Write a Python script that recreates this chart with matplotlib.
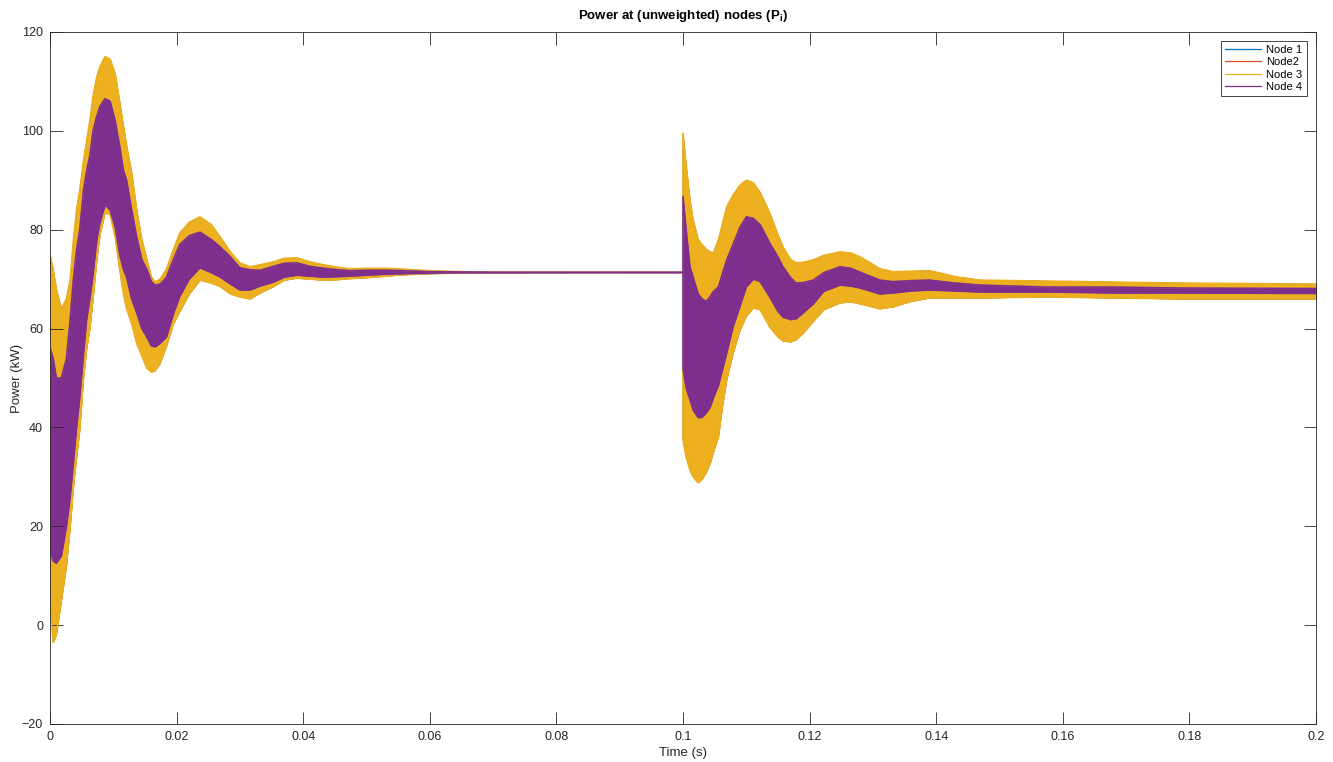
import matplotlib
matplotlib.use("Agg")
import matplotlib.pyplot as plt
from matplotlib.lines import Line2D
import numpy as np

# ---- data (envelopes of the oscillating node powers) ----
t = [0.0000, 0.0005, 0.0010, 0.0018, 0.0026, 0.0032, 0.0037, 0.0042, 0.0047, 0.0053,
     0.0058, 0.0063, 0.0068, 0.0074, 0.0079, 0.0087, 0.0095, 0.0103, 0.0110, 0.0116,
     0.0121, 0.0129, 0.0137, 0.0145, 0.0153, 0.0160, 0.0166, 0.0174, 0.0184, 0.0195,
     0.0205, 0.0220, 0.0237, 0.0255, 0.0269, 0.0285, 0.0300, 0.0316, 0.0332, 0.0353,
     0.0370, 0.0390, 0.0410, 0.0432, 0.0454, 0.0474, 0.0500, 0.0530, 0.0560, 0.0600,
     0.0650, 0.0700, 0.1000,
     0.1000, 0.1005, 0.1011, 0.1016, 0.1024, 0.1030, 0.1037, 0.1043, 0.1048, 0.1056,
     0.1062, 0.1069, 0.1079, 0.1090, 0.1100, 0.1111, 0.1122, 0.1137, 0.1150, 0.1158,
     0.1170, 0.1179, 0.1190, 0.1206, 0.1222, 0.1248, 0.1265, 0.1280, 0.1311, 0.1332,
     0.1360, 0.1390, 0.1430, 0.1469, 0.1575, 0.1680, 0.1785, 0.2000]

node3_hi = [75, 72, 68, 64, 66, 70, 78, 84, 88, 94,
            98, 102, 107, 111, 113, 115, 114.5, 111.5, 106, 101,
            97, 91.5, 84, 78, 74, 70.5, 69.4, 70, 72, 76,
            79.3, 81.5, 82.6, 81, 78.5, 75.5, 73.3, 72.5, 72.9, 73.5,
            74.2, 74.3, 73.5, 72.9, 72.4, 72.1, 72.2, 72.2, 72.0, 71.7,
            71.5, 71.4, 71.35,
            99.5, 93, 86, 82, 78, 77, 76, 75.5, 75.3, 78,
            81, 84.6, 87, 89, 90, 89.5, 87.5, 83.4, 79, 76.5,
            74, 73.3, 73.4, 73.9, 74.8, 75.5, 75.3, 74.5, 72.1, 71.5,
            71.6, 71.7, 70.5, 69.8, 69.6, 69.4, 69.2, 69.0]
node3_lo = [5, -3.5, -2, 5, 12, 20, 28, 34, 39.5, 50,
            56, 60, 66, 74, 79, 83.5, 83, 78.5, 72, 67,
            64, 61, 57, 54.5, 52, 51.2, 51.5, 53, 56.5, 61,
            63.5, 67, 69.8, 69.2, 68.5, 67, 66.4, 66, 67.2, 68.5,
            69.8, 70.2, 70, 69.8, 69.9, 70.1, 70.3, 70.6, 70.9, 71.1,
            71.25, 71.3, 71.35,
            37.5, 34, 31.4, 30, 28.8, 29.5, 31, 32.8, 35, 38.1,
            44, 49.6, 55, 59.7, 62.5, 64.2, 63.8, 60.3, 58.3, 57.5,
            57.3, 57.8, 59.1, 61.5, 63.8, 65.2, 65.4, 65.0, 64.0, 64.4,
            65.5, 66.2, 66.2, 66.2, 66.4, 66.2, 66.0, 66.0]
node4_hi = [56, 54, 50, 50, 54, 62, 70, 76, 80, 88,
            92, 95, 100, 103, 105, 106.5, 106, 102, 97, 92,
            90, 84, 78.5, 74, 72, 69.5, 68.8, 69, 70.4, 74,
            77, 78.8, 79.5, 78, 76.5, 74.5, 72.3, 71.9, 71.8, 72.6,
            73.2, 73.3, 72.6, 72.2, 71.9, 71.7, 71.8, 71.8, 71.7, 71.5,
            71.45, 71.4, 71.35,
            86.7, 80, 72.5, 70.4, 67, 66, 65.5, 66.5, 67.5, 68.4,
            71, 73.9, 77, 80.5, 82.6, 82.3, 81, 77.3, 74.5, 72.5,
            70.3, 69.2, 69.3, 69.8, 71.3, 72.5, 72.2, 71.4, 69.8, 69.5,
            69.7, 69.8, 69.2, 68.8, 68.4, 68.4, 68.2, 68.1]
node4_lo = [15, 13, 12.5, 14, 20, 26, 33, 40, 46, 55,
            62, 66, 71, 78, 81.5, 85, 84, 80.5, 75, 72,
            70.4, 66, 63.2, 60, 58.3, 56.5, 56.3, 57, 58.3, 63,
            66.5, 70, 72.3, 71.3, 70.4, 69, 67.8, 67.8, 68.6, 69.4,
            70.4, 70.8, 70.6, 70.4, 70.5, 70.6, 70.8, 71.0, 71.1, 71.2,
            71.3, 71.3, 71.35,
            52, 48, 45.6, 43.5, 42, 42, 43, 44.1, 46, 48.5,
            51.5, 55, 60.3, 64.5, 68.4, 70, 69.5, 66.4, 63.5, 62.3,
            61.8, 62, 63.2, 65, 67.5, 68.8, 68.6, 68.2, 67.0, 67.2,
            67.6, 67.8, 67.6, 67.4, 67.4, 67.2, 67.2, 67.1]

# Nodes 1 and 2 lie underneath Node 3 and cannot be told apart from it
node1_hi, node1_lo = node3_hi, node3_lo
node2_hi, node2_lo = node3_hi, node3_lo

labels = ["Node 1", "Node2", "Node 3", "Node 4"]
colors = ["#0072BD", "#D95319", "#EDB120", "#7E2F8E"]

x_ticks = [0, 0.02, 0.04, 0.06, 0.08, 0.1, 0.12, 0.14, 0.16, 0.18, 0.2]
x_tick_labels = ["0", "0.02", "0.04", "0.06", "0.08", "0.1", "0.12", "0.14", "0.16", "0.18", "0.2"]
y_ticks = [-20, 0, 20, 40, 60, 80, 100, 120]

# ---- figure ----
plt.rcParams['font.family'] = ['Liberation Sans', 'DejaVu Sans']
fig = plt.figure(figsize=(13.33, 7.62), dpi=100)
ax = fig.add_axes([50/1333, 1 - 724/762, (1316-50)/1333, (724-32)/762])

series = [(node1_hi, node1_lo), (node2_hi, node2_lo), (node3_hi, node3_lo), (node4_hi, node4_lo)]
edge_w = [0.3, 0.3, 1.2, 1.2]
for (hi, lo), c, w in zip(series, colors, edge_w):
    ax.fill_between(t, lo, hi, color=c, linewidth=0)
    ax.plot(t, hi, color=c, lw=w)
    ax.plot(t, lo, color=c, lw=w)

ax.set_xlim(0, 0.2)
ax.set_ylim(-20, 120)
ax.set_xticks(x_ticks)
ax.set_xticklabels(x_tick_labels)
ax.set_yticks(y_ticks)

axc = '#262626'
for s in ax.spines.values():
    s.set_color(axc)
    s.set_linewidth(0.6)
ax.tick_params(direction='in', length=9, width=0.6, colors=axc, labelsize=9,
               top=True, right=True, pad=5)

ax.set_title("Power at (unweighted) nodes (P$_\\mathregular{i}$)", fontsize=9.5,
             fontweight='bold', color='black', pad=9)
ax.set_xlabel("Time (s)", fontsize=9.5, color=axc, labelpad=3)
ax.set_ylabel("Power (kW)", fontsize=9.5, color=axc, labelpad=-1)

handles = [Line2D([0], [0], color=c, lw=0.9) for c in colors]
leg = ax.legend(handles, labels, loc='upper right', bbox_to_anchor=(0.9925, 0.987),
                fontsize=8, frameon=True, fancybox=False, framealpha=1,
                edgecolor=axc, handlelength=3.2, handletextpad=0.5,
                borderpad=0.35, labelspacing=0.22, borderaxespad=0)
leg.get_frame().set_linewidth(0.6)

fig.savefig("out.png", dpi=100)
